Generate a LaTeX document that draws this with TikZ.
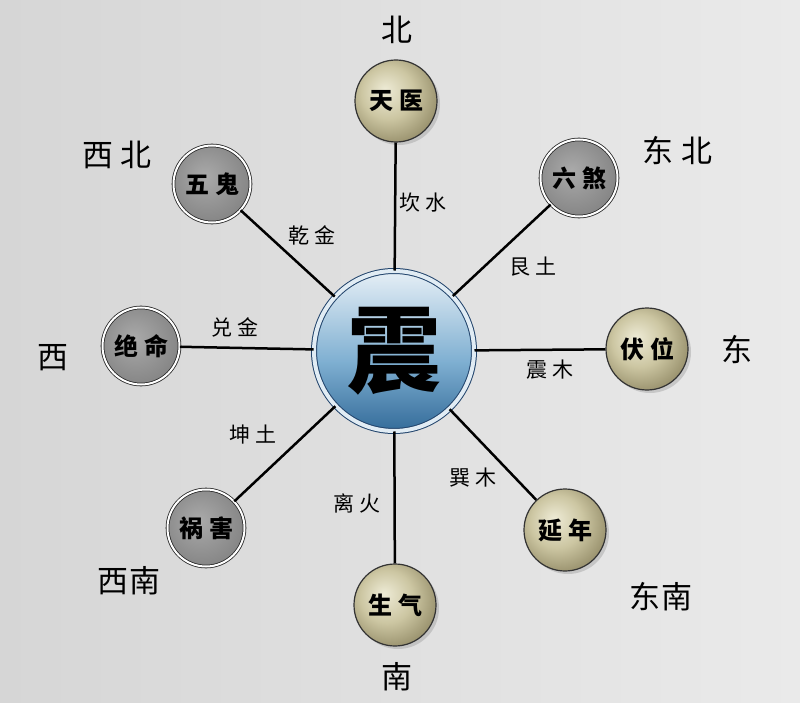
\documentclass[tikz,border=0pt]{standalone}
\usepackage{fontspec}
\setmainfont{Noto Sans CJK SC}
\usetikzlibrary{shadows}

\definecolor{bgleft}{RGB}{214,214,214}
\definecolor{bgright}{RGB}{234,234,234}
\definecolor{goldhi}{RGB}{238,235,214}
\definecolor{goldmid}{RGB}{204,198,162}
\definecolor{goldlo}{RGB}{138,130,94}
\definecolor{grayhi}{RGB}{170,170,170}
\definecolor{graylo}{RGB}{128,128,128}
\definecolor{zhenhi}{RGB}{230,239,246}
\definecolor{zhenmid}{RGB}{128,176,210}
\definecolor{zhenlo}{RGB}{52,108,154}
\definecolor{zhenrim}{RGB}{34,68,108}
\definecolor{zhenring}{RGB}{225,236,244}

\pgfdeclareradialshading{goldball}{\pgfpoint{-7bp}{7bp}}{color(0bp)=(goldhi); color(16bp)=(goldmid); color(34bp)=(goldlo); color(60bp)=(goldlo)}
\pgfdeclareradialshading{grayball}{\pgfpoint{-5bp}{5bp}}{color(0bp)=(grayhi); color(32bp)=(graylo); color(60bp)=(graylo)}
\pgfdeclareverticalshading{zhenball}{100bp}{color(0bp)=(zhenlo); color(25bp)=(zhenlo); color(47bp)=(zhenmid); color(75bp)=(zhenhi); color(100bp)=(zhenhi)}

\tikzset{
  goldbtn/.style={circle, minimum size=82pt, inner sep=0pt, shade, shading=goldball,
    draw=black!80, line width=1.2pt,
    drop shadow={opacity=0.3, shadow xshift=3pt, shadow yshift=-3pt},
    font=\fontsize{24}{24}\selectfont\bfseries},
  graybtn/.style={circle, minimum size=77pt, inner sep=0pt, shade, shading=grayball,
    draw=black!85, line width=0.8pt, double=white, double distance=2pt,
    font=\fontsize{24}{24}\selectfont\bfseries},
  zhenbtn/.style={circle, minimum size=160pt, inner sep=0pt, shade, shading=zhenball,
    draw=zhenrim, line width=1pt, double=zhenring, double distance=4pt,
    font=\fontsize{94}{94}\selectfont\bfseries},
  dirlabel/.style={font=\fontsize{31}{31}\selectfont},
  linklabel/.style={font=\fontsize{21}{21}\selectfont},
  spoke/.style={line width=2.5pt, black}
}

\begin{document}
\begin{tikzpicture}[x=1pt,y=-1pt]

% BACKGROUND
\shade [left color=bgleft, right color=bgright] (0,0) rectangle (800,703);
\useasboundingbox (0,0) rectangle (800,703);

% CENTER
\node [zhenbtn] (zhen) at (394,351) {震};

% STARS
\node [goldbtn] (tianyi)  at (396,101) {天\hspace{6pt}医};
\node [graybtn] (liusha)  at (579,178) {六\hspace{6pt}煞};
\node [goldbtn] (fuwei)   at (647,349) {伏\hspace{6pt}位};
\node [goldbtn] (yannian) at (565,530) {延\hspace{6pt}年};
\node [goldbtn] (shengqi) at (395,605) {生\hspace{6pt}气};
\node [graybtn] (huohai)  at (206,528) {祸\hspace{6pt}害};
\node [graybtn] (jueming) at (141,346) {绝\hspace{6pt}命};
\node [graybtn] (wugui)   at (212,184) {五\hspace{6pt}鬼};

% SPOKES
\draw [spoke] (zhen) -- (tianyi);
\draw [spoke] (zhen) -- (liusha);
\draw [spoke] (zhen) -- (fuwei);
\draw [spoke] (zhen) -- (yannian);
\draw [spoke] (zhen) -- (shengqi);
\draw [spoke] (zhen) -- (huohai);
\draw [spoke] (zhen) -- (jueming);
\draw [spoke] (zhen) -- (wugui);

% TRIGRAMS
\node [linklabel] (kan)    at (423,203) {坎\hspace{6pt}水};
\node [linklabel] (gen)    at (533,267) {艮\hspace{6pt}土};
\node [linklabel] (zhenmu) at (550,370) {震\hspace{6pt}木};
\node [linklabel] (xun)    at (473,478) {巽\hspace{6pt}木};
\node [linklabel] (li)     at (357,503) {离\hspace{6pt}火};
\node [linklabel] (kun)    at (253,435) {坤\hspace{6pt}土};
\node [linklabel] (dui)    at (235,327) {兑\hspace{6pt}金};
\node [linklabel] (qian)   at (312,235) {乾\hspace{6pt}金};

% DIRECTIONS
\node [dirlabel] (north)     at (397,30)  {北};
\node [dirlabel] (northeast) at (677,151) {东\hspace{8pt}北};
\node [dirlabel] (east)      at (737,350) {东};
\node [dirlabel] (southeast) at (661,597) {东\hspace{2pt}南};
\node [dirlabel] (south)     at (397,677) {南};
\node [dirlabel] (southwest) at (129,581) {西\hspace{2pt}南};
\node [dirlabel] (west)      at (53,358)  {西};
\node [dirlabel] (northwest) at (117,155) {西\hspace{8pt}北};

\end{tikzpicture}
\end{document}
